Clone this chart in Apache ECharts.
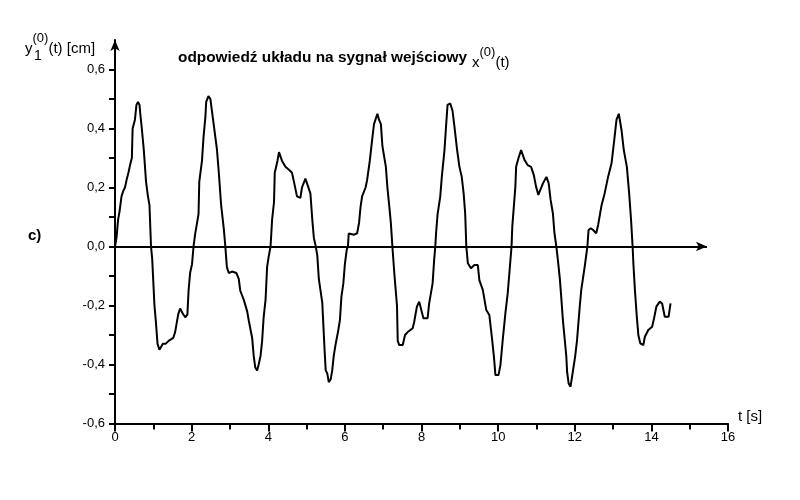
<!DOCTYPE html>
<html>
<head>
<meta charset="utf-8">
<script src="https://cdn.jsdelivr.net/npm/echarts@6/dist/echarts.min.js"></script>
<style>
  html, body { margin: 0; padding: 0; background: #fff; }
  #chart { width: 800px; height: 500px; }
</style>
</head>
<body>
<div id="chart"></div>
<script>
// czas [s]
const timeS = [
  0.00, 0.04, 0.08, 0.12, 0.17, 0.22, 0.26, 0.31, 0.35, 0.40, 0.44, 0.46, 0.52, 0.56, 0.60, 0.64, 0.66, 0.70, 0.75, 0.81, 0.86, 0.90, 0.94,
  0.97, 1.00, 1.03, 1.07, 1.11, 1.16, 1.20, 1.25, 1.32, 1.40, 1.52, 1.57, 1.61, 1.65, 1.70, 1.74, 1.78, 1.84, 1.89, 1.92, 1.96, 2.01, 2.05,
  2.09, 2.18, 2.20, 2.27, 2.31, 2.36, 2.38, 2.44, 2.49, 2.53, 2.62, 2.66, 2.71, 2.77, 2.84, 2.88,
  2.92, 2.97, 3.05, 3.10, 3.17, 3.23, 3.27, 3.36, 3.45, 3.49, 3.58, 3.62, 3.66, 3.71, 3.75, 3.80, 3.84, 3.88, 3.93, 3.97, 4.01, 4.06,
  4.10, 4.15, 4.17, 4.24, 4.28, 4.32, 4.36, 4.45, 4.54, 4.62, 4.67, 4.75, 4.84, 4.88, 4.97, 5.01, 5.10, 5.15, 5.19, 5.24,
  5.28, 5.32, 5.41, 5.44, 5.47, 5.50, 5.54, 5.58, 5.63, 5.67, 5.71, 5.76, 5.82, 5.87, 5.91, 5.96, 6.00, 6.05, 6.08,
  6.10, 6.15, 6.24, 6.32, 6.37, 6.41, 6.45, 6.54, 6.58, 6.65, 6.71, 6.76, 6.85, 6.89, 6.94, 6.98, 7.07, 7.11, 7.16, 7.20, 7.24,
  7.29, 7.36, 7.38, 7.42, 7.51, 7.57, 7.64, 7.77, 7.81, 7.88, 7.94, 7.98, 8.05, 8.16, 8.20, 8.29, 8.33, 8.36,
  8.38, 8.42, 8.49, 8.53, 8.60, 8.64, 8.68, 8.75, 8.81, 8.86, 8.93, 8.99, 9.05, 9.10, 9.14, 9.17,
  9.21, 9.29, 9.38, 9.47, 9.51, 9.60, 9.69, 9.77, 9.84, 9.89, 9.93, 10.01, 10.06, 10.12, 10.19, 10.25, 10.30, 10.35,
  10.37, 10.41, 10.45, 10.47, 10.53, 10.60, 10.64, 10.69, 10.77, 10.86, 10.93, 10.99, 11.05, 11.10, 11.17, 11.26, 11.32, 11.37, 11.43, 11.47, 11.52,
  11.56, 11.61, 11.65, 11.69, 11.74, 11.78, 11.80, 11.84, 11.89, 11.95, 12.01, 12.06, 12.13, 12.17, 12.26, 12.33,
  12.36, 12.42, 12.48, 12.56, 12.61, 12.70, 12.78, 12.87, 12.96, 13.03, 13.09, 13.15, 13.22, 13.28, 13.36, 13.42, 13.47, 13.51,
  13.53, 13.57, 13.62, 13.66, 13.71, 13.79, 13.83, 13.92, 14.02, 14.07, 14.13, 14.22, 14.28, 14.35, 14.45, 14.50
];

// y1(0)(t) [cm]
const response = [
  0.00, 0.03, 0.09, 0.12, 0.17, 0.19, 0.20, 0.23, 0.25, 0.28, 0.30, 0.40, 0.43, 0.48, 0.49, 0.48, 0.45, 0.40, 0.33, 0.22, 0.17, 0.14, 0.00,
  -0.04, -0.12, -0.20, -0.26, -0.33, -0.35, -0.35, -0.33, -0.33, -0.32, -0.31, -0.29, -0.26, -0.23, -0.21, -0.21, -0.23, -0.24, -0.23, -0.15, -0.09, -0.06, 0.00,
  0.04, 0.11, 0.22, 0.29, 0.37, 0.44, 0.49, 0.51, 0.50, 0.46, 0.37, 0.33, 0.25, 0.14, 0.06, 0.00,
  -0.07, -0.09, -0.085, -0.08, -0.09, -0.11, -0.15, -0.18, -0.22, -0.25, -0.31, -0.37, -0.41, -0.42, -0.40, -0.37, -0.32, -0.24, -0.18, -0.07, -0.035, 0.00,
  0.09, 0.15, 0.25, 0.29, 0.32, 0.32, 0.29, 0.27, 0.26, 0.25, 0.22, 0.17, 0.165, 0.20, 0.23, 0.225, 0.18, 0.09, 0.03, 0.00,
  -0.03, -0.11, -0.19, -0.27, -0.35, -0.42, -0.43, -0.46, -0.45, -0.42, -0.37, -0.33, -0.29, -0.25, -0.17, -0.125, -0.06, -0.01, 0.00,
  0.044, 0.05, 0.04, 0.045, 0.08, 0.135, 0.17, 0.20, 0.225, 0.29, 0.36, 0.415, 0.45, 0.43, 0.415, 0.34, 0.27, 0.20, 0.135, 0.08, 0.00,
  -0.09, -0.20, -0.32, -0.334, -0.334, -0.30, -0.29, -0.277, -0.255, -0.204, -0.187, -0.193, -0.243, -0.243, -0.193, -0.125, -0.046, 0.00,
  0.045, 0.11, 0.17, 0.236, 0.327, 0.406, 0.48, 0.485, 0.46, 0.406, 0.327, 0.27, 0.236, 0.18, 0.112, 0.00,
  -0.057, -0.074, -0.063, -0.063, -0.114, -0.147, -0.215, -0.232, -0.311, -0.373, -0.436, -0.436, -0.402, -0.317, -0.226, -0.159, -0.08, 0.00,
  0.068, 0.135, 0.203, 0.27, 0.299, 0.327, 0.327, 0.293, 0.276, 0.27, 0.243, 0.203, 0.175, 0.175, 0.214, 0.236, 0.214, 0.158, 0.112, 0.045, 0.00,
  -0.046, -0.108, -0.176, -0.249, -0.317, -0.373, -0.424, -0.464, -0.475, -0.424, -0.373, -0.317, -0.204, -0.147, -0.068, 0.00,
  0.056, 0.062, 0.056, 0.045, 0.073, 0.14, 0.18, 0.236, 0.282, 0.36, 0.43, 0.45, 0.395, 0.327, 0.27, 0.18, 0.09, 0.00,
  -0.057, -0.147, -0.238, -0.30, -0.328, -0.334, -0.306, -0.283, -0.272, -0.243, -0.204, -0.187, -0.193, -0.238, -0.238, -0.193
];

// etykiety osi
const yLabelValues = [-0.6, -0.4, -0.2, 0, 0.2, 0.4, 0.6];
const yTickValues = [-0.6, -0.5, -0.4, -0.3, -0.2, -0.1, 0, 0.1, 0.2, 0.3, 0.4, 0.5, 0.6];
const zeroAxisEnd = 15.45; // koniec strzałki osi t

const FONT = '"Liberation Sans", Arial, sans-serif';

const chart = echarts.init(document.getElementById('chart'), null, { renderer: 'canvas' });

const points = timeS.map((t, i) => [t, response[i]]);

const supRich = {
  b: { fontFamily: FONT, fontSize: 15, verticalAlign: 'bottom', lineHeight: 24 },
  s: { fontFamily: FONT, fontSize: 13, verticalAlign: 'top', lineHeight: 24 }
};

const option = {
  backgroundColor: '#fff',
  animation: false,
  grid: { left: 115, right: 72, top: 40, bottom: 76.5 },
  xAxis: {
    type: 'value',
    min: 0,
    max: 16,
    interval: 2,
    axisLine: { onZero: false, lineStyle: { color: '#000', width: 2 } },
    axisTick: { length: 8, lineStyle: { color: '#000', width: 2 } },
    minorTick: { show: true, splitNumber: 2, length: 6, lineStyle: { color: '#000', width: 2 } },
    axisLabel: { color: '#000', fontFamily: FONT, fontSize: 13, margin: 7 },
    splitLine: { show: false }
  },
  yAxis: {
    type: 'value',
    min: -0.6,
    max: 0.7,
    axisLine: {
      show: true,
      onZero: false,
      symbol: ['none', 'arrow'],
      symbolSize: [7, 11],
      lineStyle: { color: '#000', width: 2 }
    },
    axisTick: { show: true, length: 6, customValues: yTickValues, lineStyle: { color: '#000', width: 2 } },
    axisLabel: {
      color: '#000',
      fontFamily: FONT,
      fontSize: 13,
      margin: 10,
      customValues: yLabelValues,
      formatter: v => v.toFixed(1).replace('.', ',')
    },
    splitLine: { show: false }
  },
  series: [{
    type: 'line',
    data: points,
    showSymbol: false,
    lineStyle: { color: '#000', width: 2 },
    markLine: {
      silent: true,
      symbol: ['none', 'arrow'],
      symbolSize: [7, 11],
      label: { show: false },
      lineStyle: { color: '#000', width: 2, type: 'solid' },
      data: [[{ coord: [0, 0] }, { coord: [zeroAxisEnd, 0] }]]
    }
  }],
  graphic: [
    {
      type: 'text', left: 25, top: 32,
      style: { text: '{b|y}{s|(0)}{b|(t) [cm]}', fill: '#000', rich: supRich }
    },
    {
      type: 'text', left: 34, top: 49,
      style: { text: '1', fill: '#000', font: '14px ' + FONT }
    },
    {
      type: 'text', left: 178, top: 50,
      style: { text: 'odpowiedź układu na sygnał wejściowy', fill: '#000', font: 'bold 15.4px ' + FONT }
    },
    {
      type: 'text', left: 472, top: 46,
      style: { text: '{b|x}{s|(0)}{b|(t)}', fill: '#000', rich: supRich }
    },
    {
      type: 'text', left: 28, top: 228,
      style: { text: 'c)', fill: '#000', font: 'bold 15px ' + FONT }
    },
    {
      type: 'text', left: 738, top: 409,
      style: { text: 't [s]', fill: '#000', font: '15px ' + FONT }
    }
  ]
};

chart.setOption(option);
</script>
</body>
</html>
